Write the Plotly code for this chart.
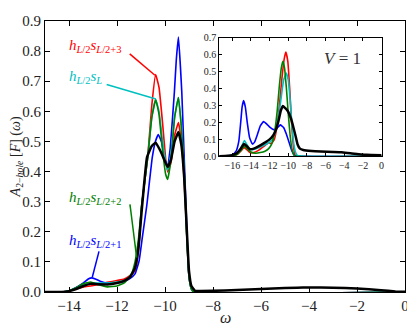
import plotly.graph_objects as go

# ---------------------------------------------------------------------------
# Data (main panel)
# ---------------------------------------------------------------------------

red_w = [-15, -14.3, -14.0, -13.7, -13.4, -13.1, -12.8, -12.4, -12.0, -11.7, -11.45,
         -11.25, -11.1, -10.97, -10.72, -10.55, -10.39, -10.25, -10.1, -9.97, -9.89,
         -9.75, -9.6, -9.44, -9.32, -9.2, -9.1, -9.0, -8.9, -8.8, 0]
red_v = [0, 0, 0.003, 0.01, 0.017, 0.02, 0.024, 0.032, 0.038, 0.043, 0.055,
         0.071, 0.14, 0.287, 0.447, 0.62, 0.722, 0.68, 0.56, 0.44, 0.399,
         0.43, 0.52, 0.563, 0.5, 0.37, 0.2, 0.05, 0.01, 0, 0]

cyan_w = [-15, -14.3, -14.0, -13.7, -13.4, -13.1, -12.8, -12.4, -12.0, -11.7, -11.45,
          -11.25, -11.1, -10.97, -10.72, -10.55, -10.39, -10.25, -10.1, -9.97, -9.89,
          -9.75, -9.6, -9.44, -9.32, -9.2, -9.1, -9.0, -8.9, -8.8, 0]
cyan_v = [0, 0, 0.004, 0.013, 0.024, 0.03, 0.03, 0.03, 0.033, 0.038, 0.05,
          0.085, 0.16, 0.29, 0.447, 0.58, 0.639, 0.6, 0.5, 0.43, 0.405,
          0.46, 0.58, 0.646, 0.55, 0.4, 0.2, 0.05, 0.01, 0, 0]

green_w = [-15, -14.3, -14.0, -13.7, -13.4, -13.1, -12.8, -12.4, -12.0, -11.7, -11.4,
           -11.25, -11.1, -10.97, -10.72, -10.55, -10.39, -10.25, -10.1, -9.97, -9.89,
           -9.75, -9.6, -9.44, -9.32, -9.2, -9.1, -9.0, -8.9, -8.8, 0]
green_v = [0, 0, 0.004, 0.014, 0.028, 0.033, 0.025, 0.017, 0.02, 0.03, 0.06,
           0.1, 0.18, 0.29, 0.447, 0.58, 0.639, 0.59, 0.47, 0.39, 0.374,
           0.44, 0.58, 0.646, 0.55, 0.4, 0.2, 0.05, 0.01, 0, 0]

blue_w = [-15, -14.3, -14.0, -13.7, -13.4, -13.2, -13.05, -12.9, -12.7, -12.4, -12.0,
          -11.7, -11.45, -11.25, -11.08, -10.95, -10.76, -10.53, -10.4, -10.28, -10.15,
          -10.0, -9.89, -9.78, -9.61, -9.53, -9.44, -9.3, -9.2, -9.1, -9.0, -8.9, -8.8, 0]
blue_v = [0, 0, 0.004, 0.015, 0.03, 0.043, 0.047, 0.043, 0.036, 0.03, 0.03,
          0.035, 0.045, 0.06, 0.103, 0.178, 0.287, 0.447, 0.5, 0.523, 0.5,
          0.44, 0.415, 0.48, 0.663, 0.77, 0.847, 0.663, 0.447, 0.23, 0.05, 0.01, 0, 0]

black_w = [-15, -14.3, -14.0, -13.7, -13.4, -13.1, -12.8, -12.4, -12.0, -11.7, -11.45,
           -11.25, -11.1, -10.97, -10.75, -10.55, -10.39, -10.2, -10.07, -9.89,
           -9.75, -9.6, -9.44, -9.32, -9.2, -9.1, -9.0, -8.9, -8.75, -8.5,
           -7.5, -6.5, -5.5, -4.5, -4.0, -3.0, -2.0, -1.0, -0.4, 0]
black_v = [0, 0, 0.003, 0.01, 0.02, 0.027, 0.026, 0.025, 0.03, 0.037, 0.05,
           0.08, 0.15, 0.27, 0.447, 0.485, 0.496, 0.47, 0.447, 0.415,
           0.44, 0.5, 0.531, 0.49, 0.38, 0.22, 0.07, 0.02, 0.004, 0.003,
           0.005, 0.008, 0.012, 0.014, 0.015, 0.014, 0.012, 0.006, 0.002, 0.001]

# ---------------------------------------------------------------------------
# Inset (V = 1)
# ---------------------------------------------------------------------------

in_blue_w = [-17.4, -16.5, -16.0, -15.6, -15.3, -15.1, -14.95, -14.79, -14.6, -14.4,
             -14.15, -13.85, -13.6, -13.3, -13.0, -12.65, -12.3, -11.95, -11.58, -11.2,
             -10.85, -10.5, -10.2, -9.9, -9.6, -9.3, -9.0, 0]
in_blue_v = [0, 0.002, 0.008, 0.03, 0.09, 0.2, 0.29, 0.328, 0.29, 0.2,
             0.11, 0.072, 0.085, 0.13, 0.18, 0.205, 0.19, 0.17, 0.157, 0.167,
             0.185, 0.17, 0.13, 0.08, 0.03, 0.003, 0, 0]

in_red_w = [-17.4, -16.0, -15.5, -15.1, -14.75, -14.45, -14.1, -13.7, -13.2, -12.6,
            -12.1, -11.8, -11.5, -11.2, -10.95, -10.7, -10.45, -10.26, -10.05, -9.85,
            -9.65, -9.45, -9.25, -9.0, 0]
in_red_v = [0, 0.002, 0.01, 0.03, 0.052, 0.04, 0.022, 0.022, 0.035, 0.06,
            0.08, 0.075, 0.1, 0.18, 0.3, 0.45, 0.57, 0.614, 0.56, 0.4,
            0.2, 0.06, 0.005, 0, 0]

in_green_w = [-17.4, -16.0, -15.4, -15.0, -14.7, -14.4, -14.0, -13.5, -13.0, -12.5,
              -12.1, -11.8, -11.5, -11.2, -10.95, -10.75, -10.58, -10.4, -10.2, -10.0,
              -9.8, -9.6, -9.4, -9.2, 0]
in_green_v = [0, 0.002, 0.015, 0.04, 0.06, 0.045, 0.025, 0.018, 0.022, 0.03,
              0.045, 0.07, 0.13, 0.26, 0.42, 0.52, 0.56, 0.52, 0.4, 0.25,
              0.12, 0.04, 0.008, 0, 0]

in_cyan_w = [-17.4, -16.0, -15.4, -15.0, -14.7, -14.45, -14.1, -13.7, -13.2, -12.6,
             -12.1, -11.7, -11.4, -11.1, -10.8, -10.5, -10.22, -10.0, -9.8, -9.6,
             -9.4, -9.2, -9.0, -8.5, 0]
in_cyan_v = [0, 0.003, 0.02, 0.06, 0.093, 0.07, 0.042, 0.04, 0.05, 0.065,
             0.08, 0.1, 0.14, 0.22, 0.33, 0.45, 0.49, 0.45, 0.33, 0.18,
             0.07, 0.02, 0.003, 0.001, 0]

in_black_w = [-17.4, -16.5, -16.0, -15.5, -15.1, -14.75, -14.45, -14.1, -13.7, -13.2,
              -12.6, -12.0, -11.6, -11.3, -11.0, -10.8, -10.58, -10.35, -10.1, -9.9,
              -9.7, -9.45, -9.22, -9.0, -8.75, -8.4, -7.5, -6.5, -5.2, -4.3,
              -3.2, -1.6, 0]
in_black_v = [0, 0.003, 0.007, 0.02, 0.045, 0.072, 0.06, 0.042, 0.045, 0.058,
              0.078, 0.1, 0.125, 0.16, 0.22, 0.27, 0.297, 0.285, 0.27, 0.25,
              0.22, 0.17, 0.12, 0.07, 0.045, 0.037, 0.031, 0.028, 0.026, 0.024,
              0.017, 0.009, 0.006]

main_ticks_x = [-14, -12, -10, -8, -6, -4, -2, 0]
main_ticks_y = [0.0, 0.1, 0.2, 0.3, 0.4, 0.5, 0.6, 0.7, 0.8, 0.9]
inset_ticks_x = [-16, -14, -12, -10, -8, -6, -4, -2, 0]
inset_ticks_y = [0.0, 0.1, 0.2, 0.3, 0.4, 0.5, 0.6, 0.7]

COLORS = {"r": "#ff0000", "c": "#00bfbf", "g": "#008000", "b": "#0000ff", "k": "#000000"}
FONT = "Liberation Serif, DejaVu Serif, serif"
SMOOTH = 0.35

fig = go.Figure()

main_series = [
    (red_w, red_v, "r", 1.6),
    (blue_w, blue_v, "b", 1.6),
    (cyan_w, cyan_v, "c", 1.6),
    (green_w, green_v, "g", 1.6),
    (black_w, black_v, "k", 2.5),
]
for w, v, c, lw in main_series:
    fig.add_trace(go.Scatter(
        x=w, y=v, mode="lines", showlegend=False,
        line=dict(color=COLORS[c], width=lw, shape="spline", smoothing=SMOOTH),
        xaxis="x", yaxis="y",
    ))

inset_series = [
    (in_red_w, in_red_v, "r", 1.6),
    (in_blue_w, in_blue_v, "b", 1.6),
    (in_cyan_w, in_cyan_v, "c", 1.6),
    (in_green_w, in_green_v, "g", 1.6),
    (in_black_w, in_black_v, "k", 2.5),
]
for w, v, c, lw in inset_series:
    fig.add_trace(go.Scatter(
        x=w, y=v, mode="lines", showlegend=False,
        line=dict(color=COLORS[c], width=lw, shape="spline", smoothing=SMOOTH),
        xaxis="x2", yaxis="y2",
    ))

# labels with leader lines
labels = [
    ("<i>h</i><sub><i>L</i>/2</sub><i>s</i><sub><i>L</i>/2+3</sub>", 0.818, "r", (-11.47, 0.791), (-10.42, 0.72)),
    ("<i>h</i><sub><i>L</i>/2</sub><i>s</i><sub><i>L</i></sub>", 0.713, "c", (-12.43, 0.689), (-10.38, 0.641)),
    ("<i>h</i><sub><i>L</i>/2</sub><i>s</i><sub><i>L</i>/2+2</sub>", 0.313, "g", (-11.46, 0.291), (-11.18, 0.114)),
    ("<i>h</i><sub><i>L</i>/2</sub><i>s</i><sub><i>L</i>/2+1</sub>", 0.168, "b", (-12.75, 0.135), (-13.03, 0.049)),
]
for text, ty, c, p0, p1 in labels:
    fig.add_annotation(
        x=-14.1, y=ty, xref="x", yref="y", text=text, showarrow=False,
        xanchor="left", yanchor="middle",
        font=dict(family=FONT, size=15, color=COLORS[c]),
    )
    fig.add_shape(type="line", xref="x", yref="y",
                  x0=p0[0], y0=p0[1], x1=p1[0], y1=p1[1],
                  line=dict(color=COLORS[c], width=1.5))

fig.add_annotation(
    x=-4.17, y=0.574, xref="x2", yref="y2", text="<i>V</i> = 1", showarrow=False,
    font=dict(family=FONT, size=17, color="#333"),
)

# axis titles as paper annotations for exact placement
fig.add_annotation(
    x=0.5, y=-0.093, xref="paper", yref="paper", text="<i>ω</i>", showarrow=False,
    xanchor="center", yanchor="middle", font=dict(family=FONT, size=16, color="#222"),
)
fig.add_annotation(
    x=-0.078, y=0.5, xref="paper", yref="paper", textangle=-90, showarrow=False,
    text="<i>A</i><sub>2−<i>hole</i></sub> [<i>F</i>] (<i>ω</i>)",
    xanchor="center", yanchor="middle", font=dict(family=FONT, size=14, color="#222"),
)

axis_common = dict(
    showgrid=False, zeroline=False, showline=True, linecolor="black", linewidth=1,
    mirror="ticks", ticks="inside", tickcolor="black",
)

# page body adds an 8px margin, so the figure is offset by 8px inside the window
fig.update_layout(
    width=407, height=324,
    margin=dict(l=37, r=10, t=5, b=40),
    paper_bgcolor="white", plot_bgcolor="white",
    font=dict(family=FONT, color="#222"),
    xaxis=dict(
        **axis_common, range=[-15, 0], tickvals=main_ticks_x, ticklen=5,
        tickfont=dict(family=FONT, size=15, color="#222"), domain=[0, 1],
    ),
    yaxis=dict(
        **axis_common, range=[0, 0.9], tickvals=main_ticks_y, tickformat=".1f",
        ticklen=5, tickfont=dict(family=FONT, size=15, color="#222"), domain=[0, 1],
    ),
    xaxis2=dict(
        **axis_common, range=[-17.4, 0], tickvals=inset_ticks_x, ticklen=3,
        tickfont=dict(family=FONT, size=10, color="#222"), domain=[0.484, 0.935], anchor="y2",
    ),
    yaxis2=dict(
        **axis_common, range=[0, 0.7], tickvals=inset_ticks_y, tickformat=".1f",
        ticklen=3, tickfont=dict(family=FONT, size=10, color="#222"), domain=[0.5007, 0.939], anchor="x2",
    ),
)

fig.write_html("out.html")
